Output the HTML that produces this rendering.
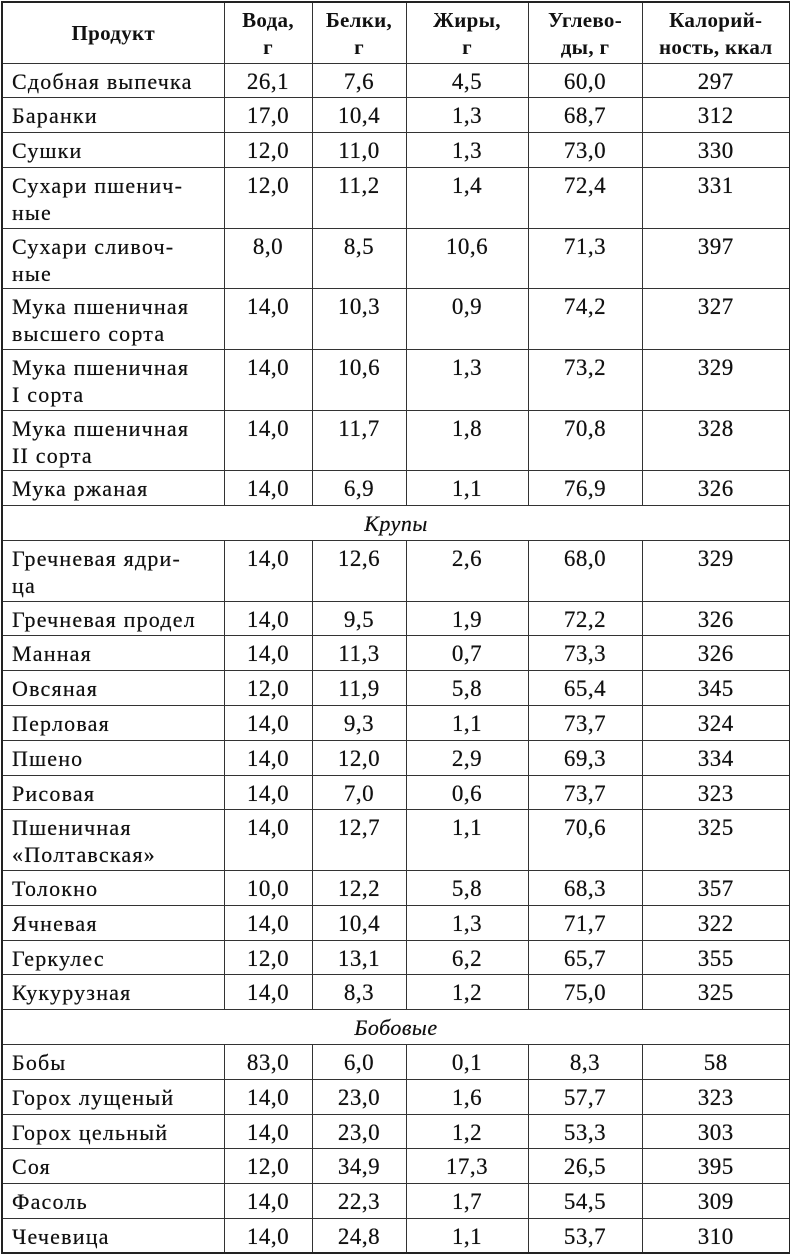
<!DOCTYPE html>
<html><head><meta charset="utf-8"><style>
html,body{margin:0;padding:0;background:#fff;}
body{width:790px;height:1253px;overflow:hidden;}
table{border-collapse:collapse;table-layout:fixed;width:788px;margin-left:1px;margin-top:1px;font-family:"Liberation Serif","DejaVu Serif",serif;font-size:23px;color:#111;border:2px solid #222;}
td,th{border:1.5px solid #333;padding:0;vertical-align:top;line-height:27px;text-align:center;box-sizing:border-box;}
td{padding-top:4px;text-shadow:0 0 0.4px #111;letter-spacing:0.5px;}
td.p{text-align:left;padding-left:9px;letter-spacing:1.2px;font-size:22px;}
th{font-weight:bold;font-size:21px;line-height:27px;padding-top:2px;vertical-align:middle;letter-spacing:0.3px;}
tr.s{height:34.8px;}
tr.d{height:60.7px;}
tr.h{height:61px;}
td.sec{font-style:italic;font-size:22px;}
</style></head><body>
<table>
<colgroup><col style="width:222px"><col style="width:88px"><col style="width:94px"><col style="width:122px"><col style="width:114px"><col style="width:148px"></colgroup>
<tr class="h"><th>Продукт</th><th>Вода,<br>г</th><th>Белки,<br>г</th><th>Жиры,<br>г</th><th>Углево-<br>ды, г</th><th>Калорий-<br>ность, ккал</th></tr>
<tr class="s"><td class="p">Сдобная выпечка</td><td>26,1</td><td>7,6</td><td>4,5</td><td>60,0</td><td>297</td></tr>
<tr class="s"><td class="p">Баранки</td><td>17,0</td><td>10,4</td><td>1,3</td><td>68,7</td><td>312</td></tr>
<tr class="s"><td class="p">Сушки</td><td>12,0</td><td>11,0</td><td>1,3</td><td>73,0</td><td>330</td></tr>
<tr class="d"><td class="p">Сухари пшенич-<br>ные</td><td>12,0</td><td>11,2</td><td>1,4</td><td>72,4</td><td>331</td></tr>
<tr class="d"><td class="p">Сухари сливоч-<br>ные</td><td>8,0</td><td>8,5</td><td>10,6</td><td>71,3</td><td>397</td></tr>
<tr class="d"><td class="p">Мука пшеничная<br>высшего сорта</td><td>14,0</td><td>10,3</td><td>0,9</td><td>74,2</td><td>327</td></tr>
<tr class="d"><td class="p">Мука пшеничная<br>I сорта</td><td>14,0</td><td>10,6</td><td>1,3</td><td>73,2</td><td>329</td></tr>
<tr class="d"><td class="p">Мука пшеничная<br>II сорта</td><td>14,0</td><td>11,7</td><td>1,8</td><td>70,8</td><td>328</td></tr>
<tr class="s"><td class="p">Мука ржаная</td><td>14,0</td><td>6,9</td><td>1,1</td><td>76,9</td><td>326</td></tr>
<tr class="s"><td colspan="6" class="sec">Крупы</td></tr>
<tr class="d"><td class="p">Гречневая ядри-<br>ца</td><td>14,0</td><td>12,6</td><td>2,6</td><td>68,0</td><td>329</td></tr>
<tr class="s"><td class="p">Гречневая продел</td><td>14,0</td><td>9,5</td><td>1,9</td><td>72,2</td><td>326</td></tr>
<tr class="s"><td class="p">Манная</td><td>14,0</td><td>11,3</td><td>0,7</td><td>73,3</td><td>326</td></tr>
<tr class="s"><td class="p">Овсяная</td><td>12,0</td><td>11,9</td><td>5,8</td><td>65,4</td><td>345</td></tr>
<tr class="s"><td class="p">Перловая</td><td>14,0</td><td>9,3</td><td>1,1</td><td>73,7</td><td>324</td></tr>
<tr class="s"><td class="p">Пшено</td><td>14,0</td><td>12,0</td><td>2,9</td><td>69,3</td><td>334</td></tr>
<tr class="s"><td class="p">Рисовая</td><td>14,0</td><td>7,0</td><td>0,6</td><td>73,7</td><td>323</td></tr>
<tr class="d"><td class="p">Пшеничная<br>«Полтавская»</td><td>14,0</td><td>12,7</td><td>1,1</td><td>70,6</td><td>325</td></tr>
<tr class="s"><td class="p">Толокно</td><td>10,0</td><td>12,2</td><td>5,8</td><td>68,3</td><td>357</td></tr>
<tr class="s"><td class="p">Ячневая</td><td>14,0</td><td>10,4</td><td>1,3</td><td>71,7</td><td>322</td></tr>
<tr class="s"><td class="p">Геркулес</td><td>12,0</td><td>13,1</td><td>6,2</td><td>65,7</td><td>355</td></tr>
<tr class="s"><td class="p">Кукурузная</td><td>14,0</td><td>8,3</td><td>1,2</td><td>75,0</td><td>325</td></tr>
<tr class="s"><td colspan="6" class="sec">Бобовые</td></tr>
<tr class="s"><td class="p">Бобы</td><td>83,0</td><td>6,0</td><td>0,1</td><td>8,3</td><td>58</td></tr>
<tr class="s"><td class="p">Горох лущеный</td><td>14,0</td><td>23,0</td><td>1,6</td><td>57,7</td><td>323</td></tr>
<tr class="s"><td class="p">Горох цельный</td><td>14,0</td><td>23,0</td><td>1,2</td><td>53,3</td><td>303</td></tr>
<tr class="s"><td class="p">Соя</td><td>12,0</td><td>34,9</td><td>17,3</td><td>26,5</td><td>395</td></tr>
<tr class="s"><td class="p">Фасоль</td><td>14,0</td><td>22,3</td><td>1,7</td><td>54,5</td><td>309</td></tr>
<tr class="s"><td class="p">Чечевица</td><td>14,0</td><td>24,8</td><td>1,1</td><td>53,7</td><td>310</td></tr>
</table>
</body></html>
